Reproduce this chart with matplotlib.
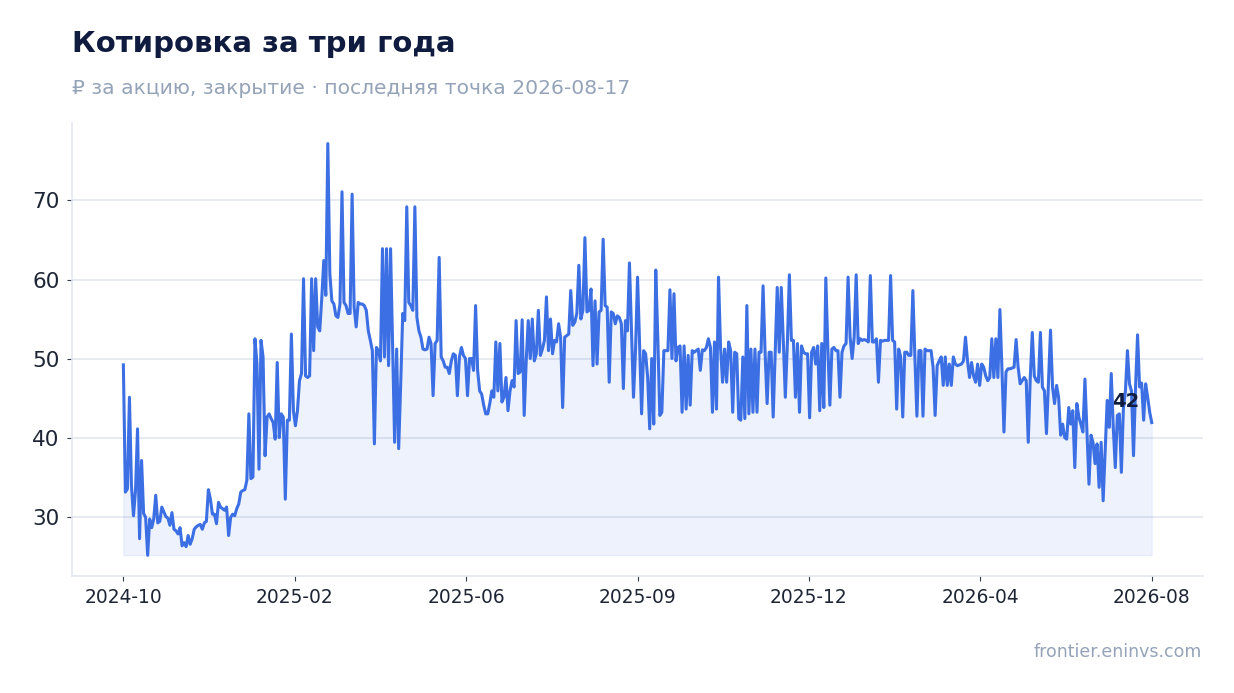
import numpy as np
import matplotlib
matplotlib.use("Agg")
import matplotlib.pyplot as plt

# closing price in chunks (left to right)
close_part1 = [49.2, 33.1, 33.5, 45.1, 33.9, 30.1, 33.3, 41.1, 27.2, 37.1, 30.4, 29.9,
               25.1, 29.7, 28.6, 29.7, 32.7, 29.2, 29.4, 31.2, 30.6, 30.0, 29.8, 28.9,
               30.5, 28.4, 28.2, 27.8, 28.6, 26.3, 26.7, 26.2, 27.6, 26.5, 27.2, 28.4,
               28.7, 28.9, 29.0, 28.4, 29.2, 29.4, 33.4, 32.2, 30.3, 30.3, 29.1, 31.8,
               31.2, 31.0, 30.8, 31.2, 27.6, 29.9, 30.3, 30.1, 31.0, 31.6, 33.1, 33.3,
               33.4, 34.6]
close_part2 = [43.0, 34.8, 35.0, 52.5, 49.3, 36.0, 52.3, 50.2, 37.7, 42.6, 43.0, 42.4,
               41.9, 39.8, 49.5, 40.0, 43.0, 42.6, 32.2, 42.2, 42.2, 53.1, 43.4, 41.5,
               43.4, 47.2, 48.1, 60.1, 47.8, 47.6, 47.8, 60.1, 51.0, 60.1, 54.0, 53.5,
               57.6, 62.4, 58.0, 77.2, 60.7, 57.3, 56.9, 55.4, 55.2, 56.9, 71.1, 57.1,
               56.7, 55.7, 55.7, 70.8, 56.5, 54.0, 57.1, 56.9, 56.9, 56.7, 56.1, 53.5,
               52.3, 51.0, 39.2, 51.4, 51.0, 49.7]
close_part3 = [63.9, 50.2, 63.9, 49.1, 63.9, 51.9, 39.4, 51.2, 38.6,
               46.8, 55.7, 54.8, 69.2, 57.1, 56.7, 56.1, 69.2, 55.2, 53.5, 52.7, 51.2,
               51.1, 51.2, 52.7, 51.9, 45.3, 51.9, 52.3, 62.8, 50.2, 49.7, 48.9, 48.9,
               48.1, 49.7, 50.6, 50.4, 45.3, 50.2, 51.4, 50.4, 50.0, 45.3, 50.0, 50.0,
               48.5, 56.7, 48.5, 45.9, 45.5, 44.1, 43.0, 43.0, 44.3, 45.9, 45.1, 52.1,
               45.9, 51.9]
close_part4 = [44.5, 45.1, 47.6, 43.4, 45.9, 47.2, 46.4, 54.8, 48.1, 48.3, 54.9, 42.8,
               49.7, 54.8, 50.0, 55.0, 49.7, 50.6, 56.1, 50.4, 51.2, 52.3, 57.8, 51.0,
               55.0, 50.6, 52.3, 52.1, 54.4, 52.7, 43.8, 52.7, 52.9, 53.1, 58.6, 54.2,
               54.6, 55.7, 61.8, 55.0, 56.1, 65.3, 55.9, 56.1, 58.8, 49.1, 57.3, 49.3,
               55.9, 56.1, 65.1, 56.7, 56.5, 47.0, 55.9, 55.7, 54.4, 55.4, 55.2, 54.4,
               46.2, 54.8, 53.5, 62.1, 53.5, 45.1, 51.1, 60.3]
close_part5 = [51.9, 43.0, 51.0, 50.6, 47.6, 41.1, 50.0, 41.7, 61.2, 52.7, 42.8, 43.2,
               51.0, 51.0, 51.0, 58.7, 50.0, 58.2, 49.7, 51.4, 51.6, 43.2, 51.6, 43.6,
               50.4, 44.1, 51.0, 50.8, 51.0, 51.2, 48.5, 51.1, 51.0, 51.4, 52.5, 51.4,
               43.2, 52.1, 43.6, 60.3, 51.4, 47.0, 51.2, 47.0, 52.1, 51.0, 43.2, 50.8,
               50.6, 42.4, 42.2, 50.2, 42.4, 56.7, 43.0, 51.2, 43.2, 51.2, 43.2, 50.8,
               50.8, 59.2, 50.8, 44.3, 50.8, 50.8, 42.6]
close_part6 = [50.8, 59.0, 50.8, 59.0, 52.3, 45.1, 51.9, 60.6, 52.3, 52.3, 45.1, 51.9,
               43.2, 51.6, 50.8, 50.6, 50.6, 42.5, 50.8, 51.4, 49.3, 51.6, 43.4, 51.9,
               43.8, 60.2, 51.4, 44.1, 51.2, 51.4, 51.0, 51.0, 45.1, 50.8, 51.6,
               51.9, 60.3, 52.7, 50.0, 52.7, 60.6, 51.9, 52.5, 52.3, 52.4, 52.3, 52.1,
               60.5, 52.1, 52.1, 52.5, 47.0, 52.3, 52.2, 52.3, 52.3, 52.3, 60.5, 52.3,
               52.1, 43.6, 51.2]
close_part7 = [50.2, 42.6, 50.8, 50.8, 50.4, 50.4, 58.6, 50.2, 42.7, 51.0, 51.0, 42.7,
               51.2, 51.0, 51.0, 51.0, 48.9, 42.8, 49.1, 49.7, 50.2, 46.6,
               50.2, 46.6, 49.3, 46.6, 50.2, 49.3, 49.1, 49.2, 49.3, 49.7, 52.7, 49.7,
               47.6, 49.5, 47.8, 47.0, 49.3, 46.6, 49.3, 48.9, 47.8, 47.2, 47.6, 52.5,
               47.6, 52.5, 47.6, 56.2, 48.7, 40.7, 48.3, 48.7, 48.7, 48.8, 48.9, 52.4,
               48.9, 46.8, 47.2, 47.6, 47.2, 39.4]
close_part8 = [47.6, 53.3, 47.8, 47.2, 47.0, 53.3, 46.4, 45.9, 40.5, 47.2, 53.6, 46.4,
               44.3, 46.6, 45.1, 40.3, 41.7, 40.0, 39.8, 43.8, 41.7, 43.4, 36.2, 44.3,
               42.6, 41.7, 40.7, 47.4, 40.7, 34.1, 40.3, 39.4, 36.7, 39.2, 33.7, 39.4,
               32.0, 38.4, 44.7, 41.3, 48.1, 41.3, 36.2, 42.8, 43.0, 35.6, 43.7, 45.9,
               51.0, 46.8, 45.9, 37.7, 46.3, 53.0, 46.4, 46.9, 42.2, 46.8, 45.1, 43.2,
               41.9]

tick_labels = ["2024-10", "2025-02", "2025-06", "2025-09", "2025-12", "2026-04", "2026-08"]
last_date = "2026-08-17"

close = np.array(close_part1 + close_part2 + close_part3 + close_part4 +
                 close_part5 + close_part6 + close_part7 + close_part8)
x = np.arange(close.size)

line_c = "#3b6fe3"
navy = "#0f1c3f"
grey = "#94a3b8"

fig = plt.figure(figsize=(12.34, 6.93), dpi=100)
ax = fig.add_axes([0.0583, 0.169, 0.9167, 0.6535])

ax.fill_between(x, close, close.min(), color=line_c, alpha=0.09, lw=0.8)
ax.plot(x, close, color=line_c, lw=2.2, solid_joinstyle="round", zorder=3)

ax.set_xticks(np.linspace(0, close.size - 1, len(tick_labels)))
ax.set_xticklabels(tick_labels)
ax.set_yticks([30, 40, 50, 60, 70])

ax.grid(axis="y", color="#e3e7ef", lw=1.2)
ax.set_axisbelow(True)
for s in ["top", "right"]:
    ax.spines[s].set_visible(False)
for s in ["left", "bottom"]:
    ax.spines[s].set_color("#e3e7ef")
    ax.spines[s].set_linewidth(1.2)
ax.tick_params(axis="y", labelsize=15.5, pad=5.5, colors="#333a48", labelcolor="#1e2535")
ax.tick_params(axis="x", labelsize=13.4, pad=5.5, colors="#333a48", labelcolor="#1e2535")

ax.annotate(f"{close[-1]:.0f}", (x[-1], close[-1]), xytext=(-19, 15),
            textcoords="offset points", ha="center", va="center",
            fontsize=14, fontweight="bold", color=navy, zorder=4)

fig.text(0.0583, 0.9365, "Котировка за три года", fontsize=21, fontweight="bold",
         color=navy, va="center", ha="left")
fig.text(0.0583, 0.873, f"₽ за акцию, закрытие · последняя точка {last_date}",
         fontsize=14.6, color=grey, va="center", ha="left")
fig.text(0.974, 0.059, "frontier.eninvs.com", fontsize=12.5, color=grey,
         va="center", ha="right")

fig.savefig("out.png", dpi=100)
